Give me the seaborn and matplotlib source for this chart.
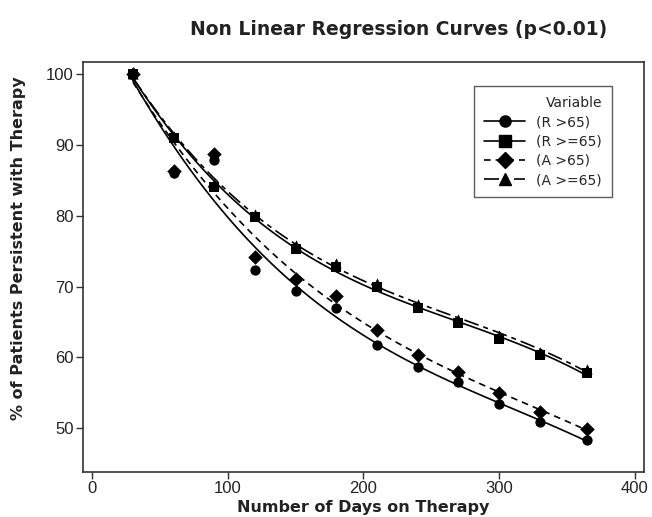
import matplotlib
matplotlib.use("Agg")
import matplotlib.pyplot as plt
import pandas as pd
import seaborn as sns
from matplotlib.lines import Line2D

# days on therapy and % persistent
days = [30, 60, 90, 120, 150, 180, 210, 240, 270, 300, 330, 365]
r_gt65 = [100, 86.0, 87.8, 72.4, 69.4, 67.0, 61.7, 58.6, 56.5, 53.4, 50.8, 48.3]
r_ge65 = [100, 91.0, 84.1, 79.8, 75.3, 72.7, 69.9, 67.0, 64.8, 62.6, 60.3, 57.8]
a_gt65 = [100, 86.3, 88.7, 74.2, 71.1, 68.6, 63.8, 60.3, 57.9, 54.9, 52.3, 49.9]
a_ge65 = [100, 91.3, 84.5, 80.2, 75.9, 73.3, 70.5, 67.5, 65.4, 63.2, 60.7, 58.3]

labels = ["(R >65)", "(R >=65)", "(A >65)", "(A >=65)"]
series = [r_gt65, r_ge65, a_gt65, a_ge65]
markers = ["o", "s", "D", "^"]
linestyles = ["-", "-", (0, (4, 3)), (0, (9, 3, 3, 3))]

sns.set_theme(style="white")
plt.rcParams["font.family"] = ["DejaVu Sans"]

fig = plt.figure(figsize=(6.52, 5.17), dpi=100)
ax = fig.add_axes([0.127, 0.087, 0.861, 0.793])

tick_font = ["Liberation Sans Narrow", "Liberation Sans", "DejaVu Sans"]

handles = []
for label, values, mk, ls in zip(labels, series, markers, linestyles):
    df = pd.DataFrame({"days": days, "pct": values})
    sns.regplot(
        data=df,
        x="days",
        y="pct",
        order=3,
        ci=None,
        marker=mk,
        color="black",
        scatter_kws={"s": 55, "linewidths": 0, "alpha": 1},
        line_kws={"linestyle": ls, "linewidth": 1.2},
        ax=ax,
    )
    handles.append(
        Line2D([], [], color="black", linestyle=ls, linewidth=1.2, marker=mk,
               markersize=8, label=label)
    )

ax.set_xlim(-7, 407)
ax.set_ylim(43.8, 101.7)
ax.set_xticks([0, 100, 200, 300, 400])
ax.set_yticks([50, 60, 70, 80, 90, 100])
ax.set_xlabel("")
ax.set_ylabel("")
for lab in ax.get_xticklabels() + ax.get_yticklabels():
    lab.set_fontfamily(tick_font)
    lab.set_fontsize(12)
    lab.set_color("#222222")
ax.tick_params(axis="both", which="major", direction="out", length=5, width=1,
               color="#333333", left=True, bottom=True, pad=1.5)
for sp in ax.spines.values():
    sp.set_color("#333333")
    sp.set_linewidth(1.2)

leg = ax.legend(handles=handles, title="Variable", loc="upper right",
                bbox_to_anchor=(0.955, 0.958), frameon=True, fontsize=10,
                title_fontsize=10, handlelength=3.0, borderpad=0.7,
                labelspacing=0.38, fancybox=False, edgecolor="#333333")
leg.get_frame().set_linewidth(1.0)
leg._legend_box.align = "right"

fig.text(0.612, 0.942, "Non Linear Regression Curves (p<0.01)", ha="center",
         va="center", fontsize=13.5, fontweight="bold", color="#222222")
fig.text(0.557, 0.004, "Number of Days on Therapy", ha="center", va="bottom",
         fontsize=11.5, fontweight="bold", color="#222222")
fig.text(0.028, 0.52, "% of Patients Persistent with Therapy", ha="center",
         va="center", rotation=90, fontsize=11.5, fontweight="bold", color="#222222")

fig.savefig("out.png", dpi=100)
